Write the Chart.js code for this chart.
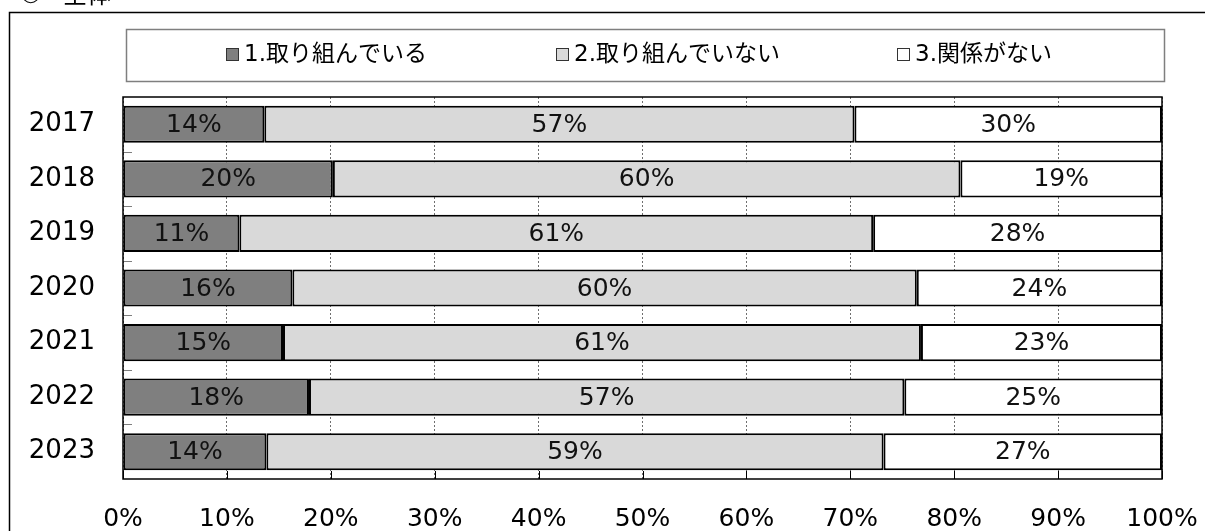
<!DOCTYPE html>
<html>
<head>
<meta charset="utf-8">
<script src="https://cdn.jsdelivr.net/npm/chart.js@4/dist/chart.umd.min.js"></script>
<style>
  html, body { margin: 0; padding: 0; background: #fff; }
  #wrap { width: 1205px; height: 531px; position: relative; }
</style>
</head>
<body>
<div id="wrap"><canvas id="chart" width="1205" height="531"></canvas></div>
<script>
// Data (share of respondents, %)
const years = ["2017", "2018", "2019", "2020", "2021", "2022", "2023"];
const doing = [13.6, 20.2, 11.2, 16.3, 15.4, 17.9, 13.8];
const notDoing = [56.8, 60.4, 61.0, 60.1, 61.4, 57.3, 59.4];
const unrelated = [29.6, 19.4, 27.8, 23.6, 23.2, 24.8, 26.8];
const seriesNames = ["1.取り組んでいる", "2.取り組んでいない", "3.関係がない"];
const xTicks = [0, 10, 20, 30, 40, 50, 60, 70, 80, 90, 100];
const titleParts = ["①", "全体"];

const FONT = '"DejaVu Sans", "Noto Sans CJK JP", sans-serif';
const colors = ["#7f7f7f", "#d9d9d9", "#ffffff"];

// frame, cut-off title, legend box, plot border, small axis ticks
const decorations = {
    id: "decorations",
    beforeDraw(chart) {
        const ctx = chart.ctx;
        ctx.save();
        ctx.fillStyle = "#fff";
        ctx.fillRect(0, 0, chart.width, chart.height);
        // outer frame
        ctx.strokeStyle = "#000";
        ctx.lineWidth = 1.5;
        ctx.beginPath();
        ctx.moveTo(1205, 12.5);
        ctx.lineTo(9.5, 12.5);
        ctx.lineTo(9.5, 540);
        ctx.stroke();
        // title (mostly outside the picture)
        ctx.fillStyle = "#000";
        ctx.font = "24px " + FONT;
        ctx.textBaseline = "alphabetic";
        ctx.fillText(titleParts[0], 20, 3);
        ctx.fillText(titleParts[1], 63, 3);
        // legend box
        ctx.strokeStyle = "#7f7f7f";
        ctx.lineWidth = 1.5;
        ctx.strokeRect(126.5, 29.5, 1038, 52);
        const itemX = [226, 556, 897];
        ctx.font = "23px " + FONT;
        ctx.textBaseline = "middle";
        seriesNames.forEach((name, i) => {
            ctx.fillStyle = colors[i];
            ctx.fillRect(itemX[i], 48, 13, 13);
            ctx.strokeStyle = "#333";
            ctx.lineWidth = 1;
            ctx.strokeRect(itemX[i] + 0.5, 48.5, 12, 12);
            ctx.fillStyle = "#000";
            ctx.fillText(name, itemX[i] + 18, 55);
        });
        ctx.restore();
    },
    afterDatasetsDraw(chart) {
        const ctx = chart.ctx;
        const a = chart.chartArea;
        const x = chart.scales.x;
        ctx.save();
        // small inward ticks at category boundaries
        ctx.strokeStyle = "#7f7f7f";
        ctx.lineWidth = 1;
        const band = (a.bottom - a.top) / years.length;
        for (let i = 1; i < years.length; i++) {
            const yy = Math.round(a.top + band * i) + 0.5;
            ctx.beginPath();
            ctx.moveTo(a.left, yy);
            ctx.lineTo(a.left + 9, yy);
            ctx.stroke();
        }
        // upward ticks on the value axis
        ctx.strokeStyle = "#000";
        xTicks.forEach(v => {
            const xx = Math.round(x.getPixelForValue(v)) + 0.5;
            ctx.beginPath();
            ctx.moveTo(xx, a.bottom);
            ctx.lineTo(xx, a.bottom - 8);
            ctx.stroke();
        });
        // plot border
        ctx.lineWidth = 1.5;
        ctx.strokeRect(a.left, a.top, a.right - a.left, a.bottom - a.top);
        // value labels
        ctx.fillStyle = "#111";
        ctx.font = "25px " + FONT;
        ctx.textAlign = "center";
        ctx.textBaseline = "middle";
        chart.data.datasets.forEach((ds, di) => {
            chart.getDatasetMeta(di).data.forEach((bar, i) => {
                const cx = (bar.x + bar.base) / 2;
                ctx.fillText(Math.round(ds.data[i]) + "%", cx, bar.y + 1);
            });
        });
        ctx.restore();
    }
};

new Chart(document.getElementById("chart"), {
    type: "bar",
    data: {
        labels: years,
        datasets: [doing, notDoing, unrelated].map((d, i) => ({
            label: seriesNames[i],
            data: d,
            backgroundColor: colors[i],
            borderColor: "#000",
            borderWidth: 2,
            borderSkipped: false,
            categoryPercentage: 1,
            barPercentage: 0.68
        }))
    },
    options: {
        indexAxis: "y",
        responsive: false,
        animation: false,
        devicePixelRatio: 1,
        layout: { padding: { top: 97, right: 43, bottom: 0, left: 0 } },
        plugins: { legend: { display: false }, title: { display: false }, tooltip: { enabled: false } },
        scales: {
            x: {
                stacked: true,
                min: 0,
                max: 100,
                afterBuildTicks(scale) { scale.ticks = xTicks.map(v => ({ value: v })); },
                afterFit(scale) {
                    scale.height = 52;
                    scale.paddingLeft = 0;
                    scale.paddingRight = 0;
                },
                border: { display: false, dash: [2, 2] },
                grid: {
                    color: "#6f6f6f",
                    lineWidth: 1,
                    drawTicks: false
                },
                ticks: {
                    color: "#000",
                    font: { family: FONT, size: 25 },
                    padding: 25,
                    maxRotation: 0,
                    callback: v => v + "%"
                }
            },
            y: {
                stacked: true,
                afterFit(scale) { scale.width = 123; },
                border: { display: false },
                grid: { display: false },
                ticks: {
                    color: "#000",
                    font: { family: FONT, size: 26 },
                    padding: 20
                }
            }
        }
    },
    plugins: [decorations]
});
</script>
</body>
</html>
